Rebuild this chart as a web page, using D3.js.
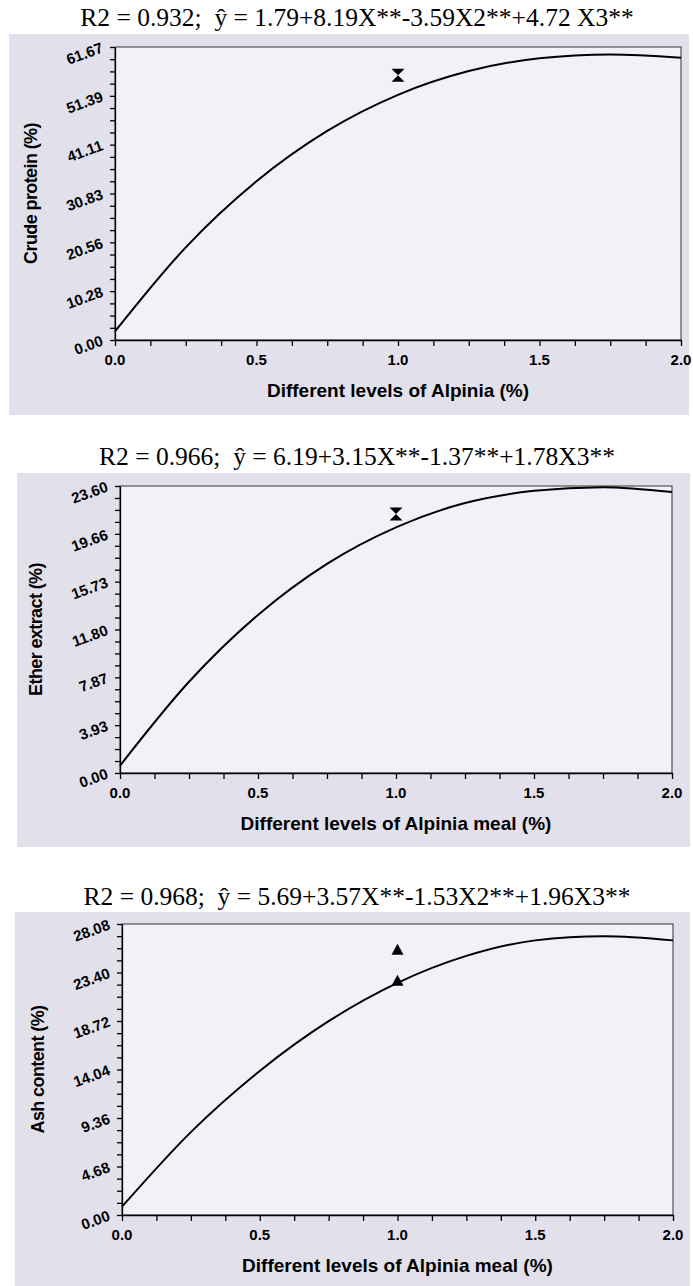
<!DOCTYPE html>
<html>
<head>
<meta charset="utf-8">
<script src="https://cdn.jsdelivr.net/npm/d3@7"></script>
<style>
  body { margin: 0; background: #fff; }
  svg { display: block; }
</style>
</head>
<body>
<svg></svg>
<script>
// levels of Alpinia (%) along the fitted curve
var xLevels = [0, 0.25, 0.5, 0.75, 1.0, 1.25, 1.5, 1.75, 2.0];

// fitted curves
var proteinFit = [1.8, 19.5, 33.4, 44.0, 51.6, 56.6, 59.3, 60.1, 59.4];
var etherFit = [0.6, 7.5, 13.0, 17.2, 20.2, 22.2, 23.2, 23.5, 23.1];
var ashFit = [0.8, 8.0, 13.9, 18.7, 22.4, 25.0, 26.5, 26.9, 26.5];

// observed points at 1.0 %
var obsLevel = 1.0;
var proteinObs = [55.7];
var etherObs = [21.3];
var ashObs = [25.6, 22.6];

var proteinTicks = ["0.00", "10.28", "20.56", "30.83", "41.11", "51.39", "61.67"];
var etherTicks = ["0.00", "3.93", "7.87", "11.80", "15.73", "19.66", "23.60"];
var ashTicks = ["0.00", "4.68", "9.36", "14.04", "18.72", "23.40", "28.08"];
var xTicks = [0, 0.5, 1.0, 1.5, 2.0];

var titles = [
  "R2 = 0.932;  \u0177 = 1.79+8.19X**-3.59X2**+4.72 X3**",
  "R2 = 0.966;  \u0177 = 6.19+3.15X**-1.37**+1.78X3**",
  "R2 = 0.968;  \u0177 = 5.69+3.57X**-1.53X2**+1.96X3**"
];
var yLabels = ["Crude protein (%)", "Ether extract (%)", "Ash content (%)"];
var xLabels = ["Different levels of Alpinia (%)", "Different levels of Alpinia meal (%)", "Different levels of Alpinia meal (%)"];

var svgWidth = 693, svgHeight = 1286;

var svg = d3.select('svg')
    .attr('width', svgWidth)
    .attr('height', svgHeight);

var panels = [
  {fit: proteinFit, obs: proteinObs, ticks: proteinTicks, marker: 'hourglass',
   bg: [9, 34, 689, 415], plot: [115, 47, 681, 340], titleY: 26},
  {fit: etherFit, obs: etherObs, ticks: etherTicks, marker: 'hourglass',
   bg: [17, 473, 690, 847], plot: [120, 486, 672, 773], titleY: 465},
  {fit: ashFit, obs: ashObs, ticks: ashTicks, marker: 'triangle',
   bg: [15, 912, 690, 1286], plot: [122, 924, 673, 1215], titleY: 905}
];

panels.forEach(function(p, k) {
  var g = svg.append('g');
  var left = p.plot[0], top = p.plot[1], right = p.plot[2], bottom = p.plot[3];
  var yMax = +p.ticks[p.ticks.length - 1];

  var x = d3.scaleLinear().domain([0, 2]).range([left, right]);
  var y = d3.scaleLinear().domain([0, yMax]).range([bottom, top]);

  // title
  g.append('text')
    .attr('x', 357)
    .attr('y', p.titleY)
    .attr('text-anchor', 'middle')
    .style('white-space', 'pre')
    .attr('font-family', '"Liberation Serif", "Times New Roman", serif')
    .attr('font-size', '25.5px')
    .attr('fill', '#000')
    .text(titles[k]);

  // grey frame and plot area
  g.append('rect')
    .attr('x', p.bg[0]).attr('y', p.bg[1])
    .attr('width', p.bg[2] - p.bg[0]).attr('height', p.bg[3] - p.bg[1])
    .attr('fill', '#e1e0eb');

  g.append('rect')
    .attr('x', left).attr('y', top)
    .attr('width', right - left).attr('height', bottom - top)
    .attr('fill', '#f2f1f8')
    .attr('stroke', '#333')
    .attr('stroke-width', 1);

  // minor ticks
  var yMinor = d3.range(0, 25).map(function(i) { return yMax * i / 24; });
  var xMinor = d3.range(0, 17).map(function(i) { return i / 8; });

  g.append('g')
    .attr('transform', 'translate(' + left + ',0)')
    .call(d3.axisLeft(y).tickValues(yMinor).tickSize(5).tickFormat('').tickSizeOuter(0))
    .call(function(a) { a.selectAll('line, path').attr('stroke', '#000').attr('stroke-width', 1.3); });

  g.append('g')
    .attr('transform', 'translate(0,' + bottom + ')')
    .call(d3.axisBottom(x).tickValues(xMinor).tickSize(6).tickFormat('').tickSizeOuter(0))
    .call(function(a) { a.selectAll('line, path').attr('stroke', '#000').attr('stroke-width', 1.3); });

  // x tick labels
  g.selectAll('.xlab')
    .data(xTicks)
    .enter()
    .append('text')
    .attr('x', function(d) { return x(d); })
    .attr('y', bottom + 25)
    .attr('text-anchor', 'middle')
    .attr('font-family', '"Liberation Sans", Arial, sans-serif')
    .attr('font-weight', 'bold')
    .attr('font-size', '15px')
    .text(function(d) { return d3.format('.1f')(d); });

  // y tick labels, tilted
  g.selectAll('.ylab')
    .data(p.ticks)
    .enter()
    .append('text')
    .attr('transform', function(d) {
      return 'translate(' + (left - 11) + ',' + (y(+d) + 5) + ') rotate(-20)';
    })
    .attr('text-anchor', 'end')
    .attr('font-family', '"Liberation Sans", Arial, sans-serif')
    .attr('font-weight', 'bold')
    .attr('font-size', '15px')
    .text(function(d) { return d; });

  // axis titles
  g.append('text')
    .attr('x', (left + right) / 2)
    .attr('y', bottom + 57)
    .attr('text-anchor', 'middle')
    .attr('font-family', '"Liberation Sans", Arial, sans-serif')
    .attr('font-weight', 'bold')
    .attr('font-size', '19px')
    .text(xLabels[k]);

  g.append('text')
    .attr('transform', 'translate(' + (left - 78) + ',' + (top + bottom) / 2 + ') rotate(-90)')
    .attr('text-anchor', 'middle')
    .attr('font-family', '"Liberation Sans", Arial, sans-serif')
    .attr('font-weight', 'bold')
    .attr('font-size', '18px')
    .attr('letter-spacing', '-0.6px')
    .text(yLabels[k]);

  // fitted curve
  var line = d3.line()
    .x(function(d, i) { return x(xLevels[i]); })
    .y(function(d) { return y(d); })
    .curve(d3.curveMonotoneX);

  g.append('path')
    .datum(p.fit)
    .attr('d', line)
    .attr('fill', 'none')
    .attr('stroke', '#000')
    .attr('stroke-width', 2);

  // observed points
  var shape = p.marker == 'hourglass'
    ? 'M-6.5,-6.5L6.5,-6.5L0,0L6.5,6.5L-6.5,6.5L0,0Z'
    : 'M0,-6L6,5L-6,5Z';

  g.selectAll('.obs')
    .data(p.obs)
    .enter()
    .append('path')
    .attr('transform', function(d) { return 'translate(' + x(obsLevel) + ',' + y(d) + ')'; })
    .attr('d', shape)
    .attr('fill', '#000');
});
</script>
</body>
</html>
